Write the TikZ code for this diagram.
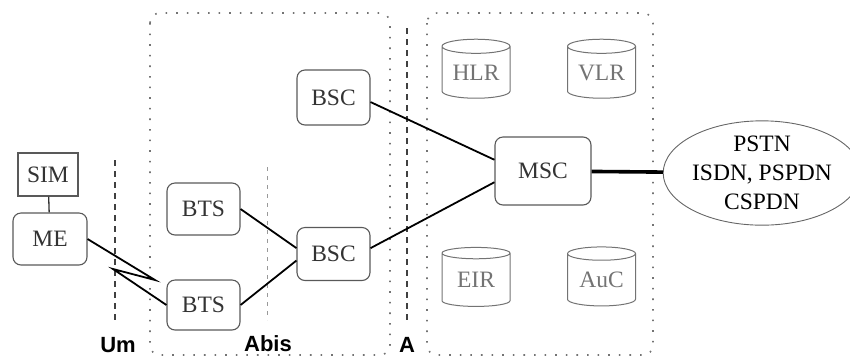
\documentclass[tikz,border=0pt]{standalone}
\usepackage{fontspec}
\setmainfont{Liberation Serif}
\setsansfont{Liberation Sans}
\usetikzlibrary{shapes.geometric}
\begin{document}
\begin{tikzpicture}[x=1pt,y=-1pt,
  box/.style={draw=black!65,line width=1.1pt,rounded corners=8pt,inner sep=0pt,
    font=\fontsize{23.5}{27}\selectfont,text=black!80},
  simbox/.style={draw=black!65,line width=1.1pt,inner sep=0pt,
    font=\fontsize{23.5}{27}\selectfont,text=black!80},
  db/.style={shape=cylinder,shape border rotate=90,aspect=0.3,draw=black!55,
    line width=1pt,inner sep=0pt,minimum width=68pt,minimum height=59pt,
    font=\fontsize{23.5}{27}\selectfont,text=black!55},
  net/.style={ellipse,draw=black!60,line width=0.9pt,inner sep=0pt,
    minimum width=175pt,minimum height=104pt,align=center,
    font=\fontsize{23.5}{29}\selectfont},
  area/.style={draw=black!55,line width=1.6pt,dash pattern=on 1.6pt off 9pt,
    rounded corners=10pt},
  iface/.style={draw=black!75,line width=1.3pt,dash pattern=on 6pt off 5pt},
  ifacelight/.style={draw=black!40,line width=1pt,dash pattern=on 4pt off 5pt},
  ilabel/.style={font=\sffamily\bfseries\fontsize{22}{26}\selectfont,inner sep=0pt},
  link/.style={draw=black,line width=1.8pt},
  biglink/.style={draw=black,line width=3.6pt}]
\useasboundingbox (0,0) rectangle (850,360);
% areas
\draw[area] (150,13) rectangle (390,355);
\draw[area] (427,13) rectangle (653,355);
% interface lines
\coordinate (umtop) at (115,160);
\coordinate (umbot) at (115,320);
\coordinate (abtop) at (267,167);
\coordinate (abbot) at (267,320);
\coordinate (atop) at (407,28);
\coordinate (abot) at (407,323);
\draw[iface] (umtop) -- (umbot);
\draw[ifacelight] (abtop) -- (abbot);
\draw[iface] (atop) -- (abot);
\node[ilabel] (um) at (118,345) {Um};
\node[ilabel] (abis) at (268,344) {Abis};
\node[ilabel] (alab) at (407,345) {A};
% nodes
\node[simbox,minimum width=60pt,minimum height=43pt] (sim) at (48,174.5) {SIM};
\node[box,minimum width=74pt,minimum height=52pt] (me) at (50,239) {ME};
\node[box,minimum width=73pt,minimum height=52pt] (bts1) at (203.5,209) {BTS};
\node[box,minimum width=73pt,minimum height=50pt] (bts2) at (203.5,305) {BTS};
\node[box,minimum width=73pt,minimum height=55pt] (bsc1) at (333.5,97.5) {BSC};
\node[box,minimum width=73pt,minimum height=53pt] (bsc2) at (333.5,254) {BSC};
\node[box,minimum width=96pt,minimum height=68pt] (msc) at (543,171) {MSC};
\node[db] (hlr) at (476,72.5) {HLR};
\node[db] (vlr) at (601.5,72.5) {VLR};
\node[db] (eir) at (476,280) {EIR};
\node[db] (auc) at (601.5,280) {AuC};
\node[net] (pstn) at (762,173) {PSTN\\ISDN, PSPDN\\CSPDN};
% connectors
\draw[draw=black!80,line width=1.3pt] (sim) -- (me);
\coordinate (z1) at (155,280);
\coordinate (z2) at (113,269);
\draw[link] (me.east) -- (z1) -- (z2) -- (bts2.west);
\draw[link] (bts1.east) -- (bsc2.171);
\draw[link] (bts2.east) -- (bsc2.190);
\draw[link] (bsc1.353) -- (msc.167);
\draw[link] (bsc2.9) -- (msc.193);
\draw[biglink] (msc) -- (pstn);
\end{tikzpicture}
\end{document}
